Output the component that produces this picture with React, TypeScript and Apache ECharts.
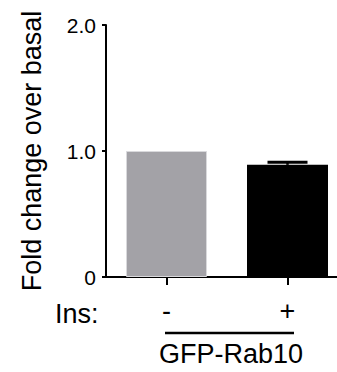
import React, { useEffect, useRef } from "react";
import * as echarts from "echarts";

const categories = ["-", "+"];
const meanValues = [1.0, 0.89];
const semValues = [0, 0.02];
const barColors = ["#a3a2a7", "#000000"];
const yTicks = [0, 1, 2];
const yTickLabels = ["0", "1.0", "2.0"];
const yAxisTitle = "Fold change over basal";
const groupLabel = "Ins:";
const constructLabel = "GFP-Rab10";

export default function App() {
  const ref = useRef<HTMLDivElement>(null);
  useEffect(() => {
    if (!ref.current) return;
    const chart = echarts.init(ref.current, undefined, { renderer: "svg" });
    const font = "Liberation Sans, Arial, Helvetica, sans-serif";
    chart.setOption({
      animation: false,
      backgroundColor: "#ffffff",
      textStyle: { fontFamily: font },
      grid: { left: 106, right: 0, top: 25, bottom: 95, containLabel: false },
      xAxis: {
        type: "category",
        data: categories,
        axisLine: { show: true, lineStyle: { color: "#000", width: 2 } },
        axisTick: { show: true, alignWithLabel: true, length: 8, lineStyle: { color: "#000", width: 2 } },
        axisLabel: { color: "#000", fontSize: 27, fontFamily: font, margin: 20 },
        splitLine: { show: false },
      },
      yAxis: {
        type: "value",
        min: 0,
        max: 2,
        interval: 1,
        name: yAxisTitle,
        nameLocation: "middle",
        nameGap: 61,
        nameTextStyle: { color: "#000", fontSize: 27, fontFamily: font },
        axisLine: { show: true, lineStyle: { color: "#000", width: 2 } },
        axisTick: { show: true, length: 4, lineStyle: { color: "#000", width: 2 } },
        axisLabel: {
          color: "#000",
          fontSize: 21,
          fontFamily: font,
          margin: 10,
          padding: [5, 0, 0, 0],
          formatter: (v: number) => {
            const i = yTicks.indexOf(v);
            return i >= 0 ? yTickLabels[i] : "";
          },
        },
        splitLine: { show: false },
      },
      series: [
        {
          type: "bar",
          barWidth: 81,
          data: meanValues.map((v, i) => ({
            value: v,
            itemStyle: {
              color: barColors[i],
              borderColor: i === 0 ? "#d9d9dc" : "#000",
              borderWidth: i === 0 ? 1 : 0,
            },
          })),
          z: 2,
        },
        {
          type: "custom",
          z: 3,
          data: meanValues.map((v, i) => [i, v, v + semValues[i]]),
          renderItem: (params: any, api: any) => {
            const idx = api.value(0);
            const mean = api.value(1);
            const upper = api.value(2);
            if (upper <= mean) return null;
            const top = api.coord([idx, upper]);
            const mid = api.coord([idx, mean]);
            const half = 20;
            return {
              type: "group",
              children: [
                {
                  type: "line",
                  shape: { x1: top[0], y1: top[1], x2: mid[0], y2: mid[1] },
                  style: { stroke: "#000", lineWidth: 2.5 },
                },
                {
                  type: "line",
                  shape: { x1: top[0] - half, y1: top[1], x2: top[0] + half, y2: top[1] },
                  style: { stroke: "#000", lineWidth: 3 },
                },
              ],
            };
          },
        },
      ],
      graphic: [
        {
          type: "text",
          left: 55,
          top: 300,
          style: { text: groupLabel, fill: "#000", font: `27px ${font}` },
        },
        {
          type: "line",
          shape: { x1: 165, y1: 333, x2: 294, y2: 333 },
          style: { stroke: "#000", lineWidth: 2.5 },
        },
        {
          type: "text",
          left: 159,
          top: 340,
          style: { text: constructLabel, fill: "#000", font: `27px ${font}` },
        },
      ],
    });
    return () => chart.dispose();
  }, []);
  return (
    <div
      style={{ position: "absolute", left: 0, top: 0, width: 337, height: 372, overflow: "hidden" }}
    >
      <div ref={ref} style={{ width: 348, height: 372 }} />
    </div>
  );
}
